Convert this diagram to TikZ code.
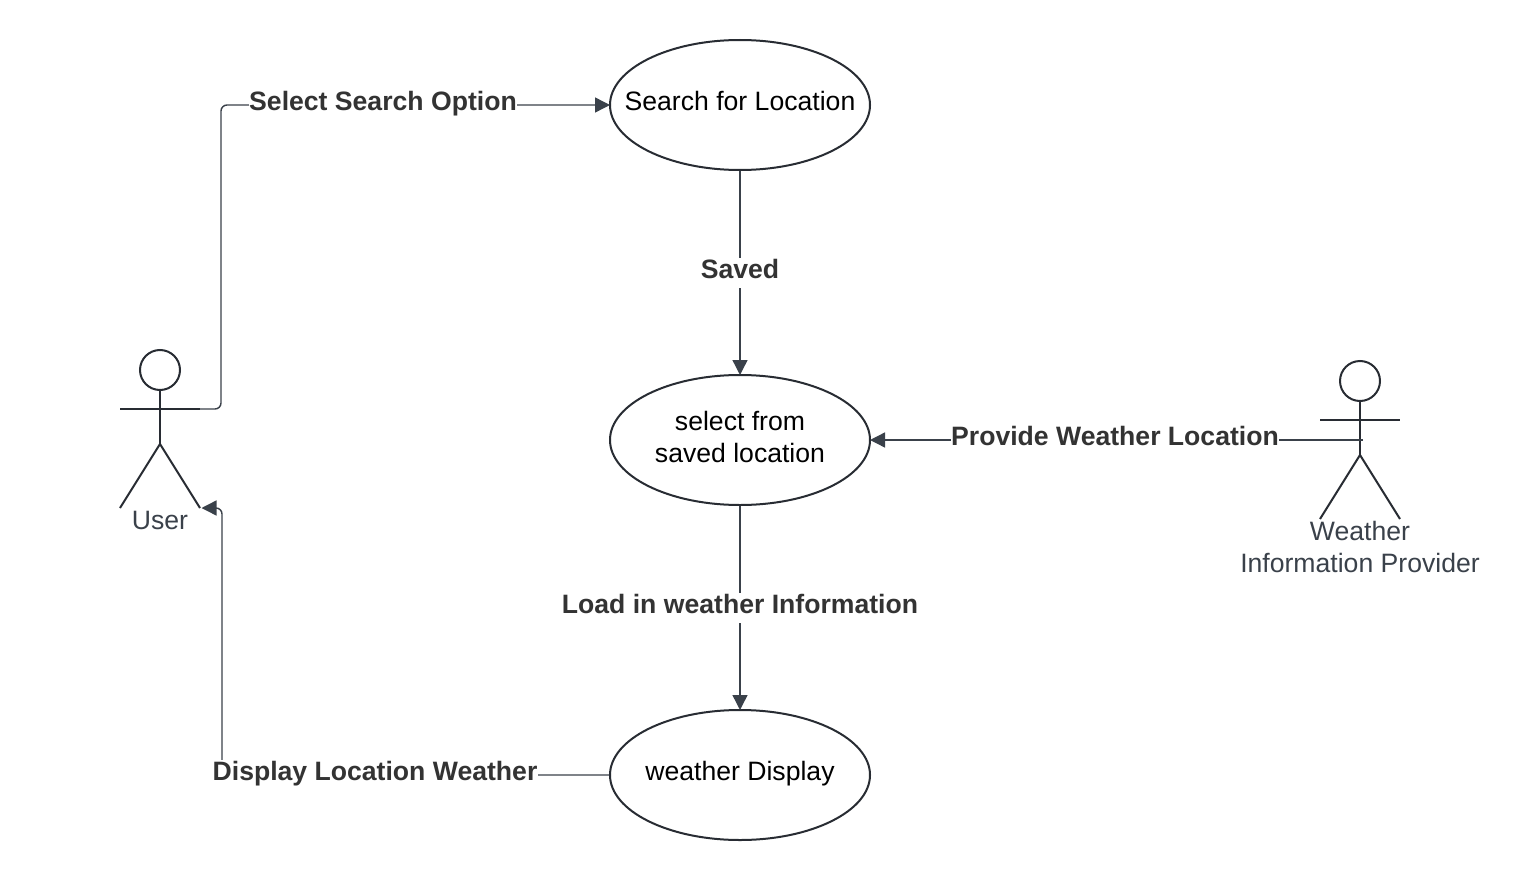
\documentclass[tikz,border=0pt]{standalone}
\usepackage{fontspec}
\setmainfont{Liberation Sans}
\usetikzlibrary{shapes.geometric,arrows.meta}
\definecolor{ink}{HTML}{282C33}
\definecolor{conn}{HTML}{3A414A}
\definecolor{lab}{HTML}{333333}
\definecolor{act}{HTML}{3A414A}
\tikzset{x=1pt,y=-1pt,
 usecase/.style={ellipse,draw=ink,line width=2pt,minimum width=260pt,minimum height=130pt,inner sep=0pt,align=center,font=\fontsize{26.6}{32}\selectfont,text=black},
 flowline/.style={draw=conn,line width=1.4pt,shorten >=-1pt,-{Triangle[length=15pt,width=15pt]}},
 flowlabel/.style={fill=white,inner xsep=0.5pt,inner ysep=0pt,anchor=base,text height=20pt,text depth=10pt,font=\fontsize{26.6}{30}\selectfont\bfseries,text=lab},
 actorline/.style={draw=ink,line width=2pt},
 actorlabel/.style={font=\fontsize{26.6}{32}\selectfont,text=act,align=center,inner sep=0pt}}
\begin{document}
\begin{tikzpicture}
\useasboundingbox (0,0) rectangle (1520,880);
\node[usecase] (search) at (740,105) {\makebox[0pt]{\raisebox{9pt}{Search for Location}}};
\node[usecase] (saved) at (740,440) {\makebox[0pt]{\raisebox{10pt}{\begin{tabular}{@{}c@{}}select from\\saved location\end{tabular}}}};
\node[usecase] (display) at (740,775) {\makebox[0pt]{\raisebox{8pt}{weather Display}}};
% User actor
\node[circle,draw=ink,line width=2pt,minimum size=40pt,inner sep=0pt] (uhead) at (160,370) {};
\coordinate (uarmL) at (120,409);
\coordinate (uarmR) at (200,409);
\coordinate (uhip) at (160,444);
\coordinate (ulegL) at (120,508);
\coordinate (ulegR) at (200,508);
\draw[actorline] (uhead.south) -- (uhip);
\draw[actorline] (uarmL) -- (uarmR);
\draw[actorline] (ulegL) -- (uhip) -- (ulegR);
\node[actorlabel] (ulabel) at (160,520) {User};
% Provider actor
\node[circle,draw=ink,line width=2pt,minimum size=40pt,inner sep=0pt] (phead) at (1360,381) {};
\coordinate (parmL) at (1320,420);
\coordinate (parmR) at (1400,420);
\coordinate (phip) at (1360,455);
\coordinate (plegL) at (1320,519);
\coordinate (plegR) at (1400,519);
\coordinate (pconn) at (1363,440);
\draw[actorline] (phead.south) -- (phip);
\draw[actorline] (parmL) -- (parmR);
\draw[actorline] (plegL) -- (phip) -- (plegR);
\node[actorlabel] (plabel) at (1360,547) {Weather\\Information Provider};
% Connectors
\draw[flowline,rounded corners=6pt] (uarmR) -- (221,409) -- (221,105) -- (search.west);
\node[flowlabel] (l1) at (383,111) {Select Search Option};
\draw[flowline] (search) -- (saved);
\node[flowlabel] (l2) at (740,278) {Saved};
\draw[flowline] (pconn) -- (saved);
\node[flowlabel] (l3) at (1115,445) {Provide Weather Location};
\draw[flowline] (saved) -- (display);
\node[flowlabel] (l4) at (740,613) {Load in weather Information};
\draw[flowline,rounded corners=6pt,shorten >=1.5pt] (display.west) -- (222,775) -- (222,508) -- (ulegR);
\node[flowlabel] (l5) at (375,780) {Display Location Weather};
\end{tikzpicture}
\end{document}
